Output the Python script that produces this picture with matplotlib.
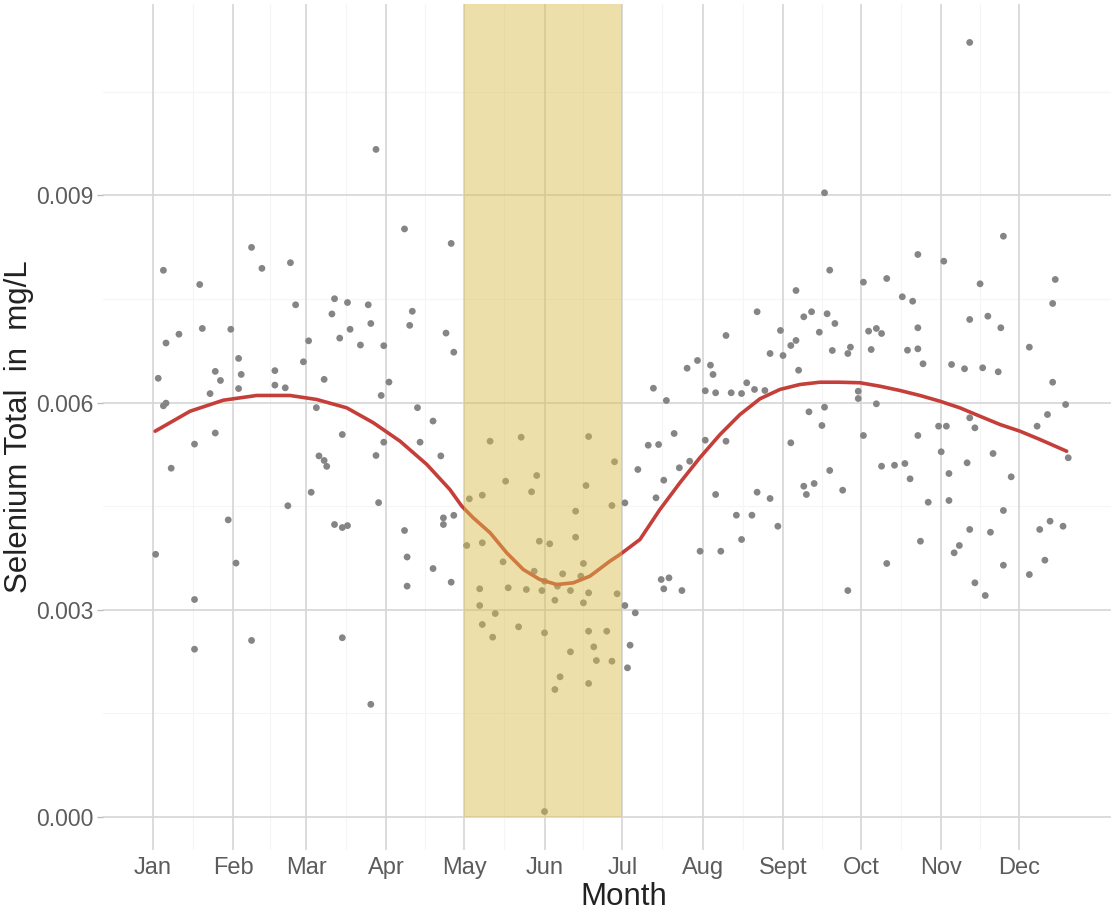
"""
Seasonal selenium concentrations with a smoothed trend and the May-Jul window
"""

import matplotlib
matplotlib.use("Agg")
import matplotlib.pyplot as plt

plt.rcParams['font.family'] = ['Liberation Sans', 'DejaVu Sans']

# sample day of year and measured total selenium (mg/L)
days = [2, 3, 5, 6, 6, 5, 8, 11, 17, 17, 17, 19, 20, 23, 25, 25, 27, 30, 31, 33,
        34, 34, 35, 39, 39, 43, 48, 48, 52, 53, 54, 56, 59,
        61, 62, 64, 65, 67, 67, 68, 70, 71, 71, 73, 74, 74, 74, 76, 76, 77,
        81, 84, 85, 85, 87, 87, 88, 89, 90, 90, 92, 98, 98, 99, 99, 100, 101,
        103, 104, 109, 109, 112, 113, 113, 114, 116, 116, 117, 117,
        122, 123, 127, 127, 128, 128, 128, 131, 132, 133, 136, 137, 138, 142,
        143, 145, 147, 148, 149, 150, 151, 152, 152, 152, 154, 156, 156, 157,
        158, 159, 162, 162, 164, 164, 166, 167, 167, 168, 169, 169, 169, 169,
        171, 172, 176, 178, 178, 179, 180,
        183, 183, 184, 185, 187, 188, 192, 194, 195, 196, 197, 198, 198, 199,
        200, 202, 204, 205, 207, 208, 211, 212, 214, 214, 216, 217, 218, 218,
        220, 222, 222, 224, 226, 228, 228, 230, 232, 233, 234, 234, 237, 239,
        239,
        242, 243, 244, 247, 247, 249, 249, 250, 252, 252, 253, 254, 255, 256,
        258, 259, 260, 260, 261, 262, 262, 263, 264, 267, 269, 269, 270, 273,
        273, 275, 275, 277, 278, 280, 280, 282, 282, 284, 284, 287, 290, 291,
        292, 293, 294, 296, 296, 296, 296, 297, 298, 300,
        304, 305, 306, 307, 308, 308, 309, 310, 312, 314, 315, 316, 316, 316,
        316, 318, 318, 320, 321, 322, 323, 324, 325, 327, 328, 329, 329, 329,
        332, 339, 339, 342, 343, 345, 346, 347, 348, 348, 349, 352, 353, 354]
selenium = [0.003800, 0.006351, 0.007916, 0.006862, 0.005991, 0.005952, 0.005048,
            0.006990, 0.003145, 0.002425, 0.005397, 0.007710, 0.007073, 0.006129,
            0.006451, 0.005558, 0.006319, 0.004299, 0.007061, 0.003673, 0.006202,
            0.006639, 0.006407, 0.008248, 0.002552, 0.007944, 0.006252, 0.006462,
            0.006213, 0.004504, 0.008026, 0.007416, 0.006590,
            0.006894, 0.004699, 0.005925, 0.005226, 0.006335, 0.005160, 0.005075,
            0.007283, 0.004232, 0.007504, 0.006933, 0.005536, 0.004188, 0.002591,
            0.007449, 0.004216, 0.007061, 0.006833, 0.007416, 0.007145, 0.001626,
            0.009668, 0.005232, 0.004549, 0.006102, 0.005425, 0.006823, 0.006296,
            0.008515, 0.004145, 0.003339, 0.003761, 0.007118, 0.007322, 0.005925,
            0.005425, 0.005731, 0.003594, 0.005226, 0.004328, 0.004232, 0.007006,
            0.008305, 0.003396, 0.006729, 0.004365,
            0.003928, 0.004604, 0.003300, 0.003058, 0.004657, 0.003967, 0.002783,
            0.005439, 0.002599, 0.002942, 0.003691, 0.004860, 0.003315, 0.002749,
            0.005497, 0.003290, 0.004706, 0.003555, 0.004942, 0.003990, 0.003275,
            0.003410, 0.002662, 0.000072, 0.003952, 0.003135, 0.001841, 0.003338,
            0.002025, 0.003517, 0.003275, 0.002387, 0.004425, 0.004048, 0.003483,
            0.003097, 0.003667, 0.004797, 0.005507, 0.003242, 0.002686, 0.001928,
            0.002459, 0.002261, 0.002686, 0.004507, 0.002251, 0.005141, 0.003228,
            0.004546, 0.003058, 0.002155, 0.002483, 0.002952, 0.005029, 0.005381,
            0.006207, 0.004619, 0.005391, 0.003435, 0.004874, 0.003300, 0.006029,
            0.003459, 0.005551, 0.005054, 0.003275, 0.006497, 0.005149, 0.006609,
            0.003845, 0.006170, 0.005454, 0.006541, 0.006406, 0.006141, 0.004667,
            0.003845, 0.006971, 0.005439, 0.006141, 0.004367, 0.006130, 0.004015,
            0.006286, 0.004367, 0.006189, 0.004700, 0.007315, 0.006174, 0.006710,
            0.004609,
            0.004207, 0.007044, 0.006681, 0.005416, 0.006826, 0.007623, 0.006899,
            0.006468, 0.007242, 0.004787, 0.004667, 0.005865, 0.007315, 0.004826,
            0.007019, 0.005667, 0.009039, 0.005932, 0.007286, 0.007918, 0.005015,
            0.006754, 0.007145, 0.004729, 0.006710, 0.003275, 0.006802, 0.006164,
            0.006058, 0.007744, 0.005522, 0.007034, 0.006768, 0.007073, 0.005981,
            0.007000, 0.005077, 0.007797, 0.003667, 0.005091, 0.007532, 0.005116,
            0.006758, 0.004894, 0.007468, 0.008145, 0.007083, 0.005522, 0.006778,
            0.003990, 0.006561, 0.004555,
            0.005657, 0.005286, 0.008048, 0.005657, 0.004971, 0.004580, 0.006551,
            0.003822, 0.003928, 0.006489, 0.005126, 0.011218, 0.007203, 0.005778,
            0.004160, 0.003387, 0.005633, 0.007720, 0.006503, 0.003203, 0.007251,
            0.004120, 0.005261, 0.006445, 0.007083, 0.008410, 0.004435, 0.003642,
            0.004923, 0.003507, 0.006802, 0.005657, 0.004160, 0.003715, 0.005826,
            0.004280, 0.007435, 0.006294, 0.007783, 0.004207, 0.005971, 0.005199]

# smoothed seasonal trend
trend_days = [1.8, 15.3, 28.1, 41.0, 53.8, 64.1, 75.7, 86.0, 96.3, 106.6,
              115.5, 120.1, 124.5, 131.0, 137.4, 143.8, 150.2, 156.7, 163.1,
              169.5, 177.2, 181.1, 188.8, 196.5, 204.2, 211.9, 219.7, 227.4,
              235.1, 242.8, 250.5, 258.2, 265.9, 273.7, 281.4, 289.1, 296.8,
              304.5, 312.2, 319.9, 327.7, 335.4, 343.1, 353.4]
trend_vals = [0.005584, 0.005874, 0.006033, 0.006102, 0.006102, 0.006044,
              0.005923, 0.005706, 0.005439, 0.005102, 0.004739, 0.004497,
              0.004329, 0.004112, 0.003822, 0.003580, 0.003435, 0.003362,
              0.003387, 0.003483, 0.003700, 0.003797, 0.004015, 0.004449,
              0.004836, 0.005199, 0.005536, 0.005826, 0.006054, 0.006189,
              0.006261, 0.006294, 0.006294, 0.006286, 0.006236, 0.006174,
              0.006102, 0.006019, 0.005923, 0.005802, 0.005681, 0.005584,
              0.005464, 0.005294]

month_days = [1, 32, 60, 91, 121, 152, 182, 213, 244, 274, 305, 335]
month_labels = ['Jan', 'Feb', 'Mar', 'Apr', 'May', 'Jun', 'Jul', 'Aug',
                'Sept', 'Oct', 'Nov', 'Dec']
y_ticks = [0.0, 0.003, 0.006, 0.009]
window_start, window_end = 121, 182

fig = plt.figure(figsize=(11.11, 9.15), dpi=100)
ax = fig.add_axes([103 / 1111, 65 / 915, 1008 / 1111, 846 / 915])

# minor grid (midpoints) then major grid
minor_x = [(a + b) / 2 for a, b in zip(month_days[:-1], month_days[1:])]
for mx in minor_x:
    ax.axvline(mx, color='#f5f5f5', lw=0.8, zorder=0)
for my in [0.0015, 0.0045, 0.0075, 0.0105]:
    ax.axhline(my, color='#f5f5f5', lw=0.8, zorder=0)
for md in month_days:
    ax.axvline(md, color='#d6d6d6', lw=1.2, zorder=0.5)
for yt in y_ticks:
    ax.axhline(yt, color='#d6d6d6', lw=1.2, zorder=0.5)

ax.scatter(days, selenium, s=24, color='#858585', edgecolors='none', zorder=2)
ax.plot(trend_days, trend_vals, color='#c53f3a', lw=2.6, zorder=3,
        solid_capstyle='round', solid_joinstyle='round')

# growing-season window, semi-transparent over everything
ax.fill_between([window_start, window_end], 0, 0.02, color='#d9bd4a',
                alpha=0.47, lw=0, zorder=4)

ax.set_xlim(-18.3, 370.5)
ax.set_ylim(-0.000485, 0.011775)
ax.set_xticks(month_days)
ax.set_xticklabels(month_labels)
ax.set_yticks(y_ticks)
ax.set_yticklabels(['0.000', '0.003', '0.006', '0.009'])
ax.tick_params(axis='x', length=0, pad=5, labelsize=17, labelcolor='#5c5c5c')
ax.tick_params(axis='y', length=4, width=1, color='#bdbdbd', pad=3,
               labelsize=16.5, labelcolor='#5c5c5c')

for spine in ax.spines.values():
    spine.set_visible(False)

ax.set_xlabel('Month', fontsize=22.5, color='#222222')
ax.xaxis.set_label_coords((624 - 103) / 1008, -(897 - 850) / 846)
ax.xaxis.label.set_va('center')
ax.set_ylabel('Selenium Total  in  mg/L', fontsize=22.5, color='#222222')
ax.yaxis.set_label_coords((19 - 103) / 1008, (850 - 427) / 846)
ax.yaxis.label.set_va('center')

fig.savefig('out.png', dpi=100)
plt.close(fig)
